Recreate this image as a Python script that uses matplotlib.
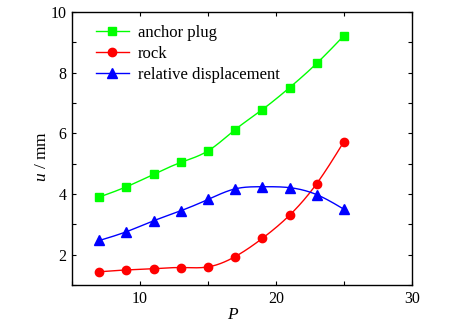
import numpy as np
import matplotlib
matplotlib.use('Agg')
import matplotlib.pyplot as plt
from matplotlib.ticker import MultipleLocator

plt.rcParams['font.family'] = ['Liberation Serif', 'DejaVu Serif']
plt.rcParams['mathtext.fontset'] = 'custom'
plt.rcParams['mathtext.it'] = 'Liberation Serif:italic'
plt.rcParams['mathtext.rm'] = 'Liberation Serif'

# load level P and measured displacements (mm)
P = [7, 9, 11, 13, 15, 17, 19, 21, 23, 25]
anchor_plug = [3.90, 4.24, 4.65, 5.04, 5.42, 6.12, 6.78, 7.50, 8.30, 9.21]
rock = [1.44, 1.50, 1.54, 1.58, 1.60, 1.94, 2.54, 3.30, 4.34, 5.72]
relative = [2.47, 2.76, 3.12, 3.45, 3.82, 4.17, 4.24, 4.21, 3.98, 3.50]


def natural_spline(x, y, n=300):
    # natural cubic spline through the points, for a smooth connecting line
    x = np.asarray(x, float)
    y = np.asarray(y, float)
    k = len(x)
    h = np.diff(x)
    A = np.zeros((k, k))
    b = np.zeros(k)
    A[0, 0] = A[-1, -1] = 1
    for i in range(1, k - 1):
        A[i, i - 1] = h[i - 1]
        A[i, i] = 2 * (h[i - 1] + h[i])
        A[i, i + 1] = h[i]
        b[i] = 6 * ((y[i + 1] - y[i]) / h[i] - (y[i] - y[i - 1]) / h[i - 1])
    M = np.linalg.solve(A, b)
    xs = np.linspace(x[0], x[-1], n)
    idx = np.clip(np.searchsorted(x, xs) - 1, 0, k - 2)
    x0, x1 = x[idx], x[idx + 1]
    hh = x1 - x0
    ys = (M[idx] * (x1 - xs) ** 3 / (6 * hh) + M[idx + 1] * (xs - x0) ** 3 / (6 * hh)
          + (y[idx] / hh - M[idx] * hh / 6) * (x1 - xs)
          + (y[idx + 1] / hh - M[idx + 1] * hh / 6) * (xs - x0))
    return xs, ys


fig = plt.figure(figsize=(4.51, 3.27), dpi=100)
ax = fig.add_axes([0.160, 0.128, 0.753, 0.836])

series = [
    (anchor_plug, '#00ff00', 's', 5.5, 'anchor plug'),
    (rock, '#ff0000', 'o', 6, 'rock'),
    (relative, '#0000ff', '^', 6.5, 'relative displacement'),
]
for ys, color, marker, ms, label in series:
    sx, sy = natural_spline(P, ys)
    ax.plot(sx, sy, color=color, lw=1.0)
    ax.plot(P, ys, linestyle='none', marker=marker, color=color, ms=ms)
    # proxy for legend (line + marker)
    ax.plot([], [], color=color, lw=1.0, marker=marker, ms=ms, label=label)

ax.set_xlim(5, 30)
ax.set_ylim(1, 10)
ax.xaxis.set_major_locator(MultipleLocator(10))
ax.xaxis.set_minor_locator(MultipleLocator(5))
ax.yaxis.set_major_locator(MultipleLocator(2))
ax.yaxis.set_minor_locator(MultipleLocator(1))
ax.tick_params(which='both', direction='in', top=True, right=True,
               length=3, width=0.8, labelsize=11.5, pad=4)
for sp in ax.spines.values():
    sp.set_linewidth(1.0)

ax.set_xlabel('$P$', fontsize=12.5)
ax.xaxis.set_label_coords(0.473, -0.079)
ax.set_ylabel('$u$ / mm', fontsize=12.5)
ax.yaxis.set_label_coords(-0.066, 0.472)

ax.legend(loc='upper left', frameon=False, fontsize=12, handlelength=2.0,
          handletextpad=0.55, labelspacing=0.3, borderaxespad=0.4,
          bbox_to_anchor=(0.03, 1.0))

fig.savefig('out.png', dpi=100)
